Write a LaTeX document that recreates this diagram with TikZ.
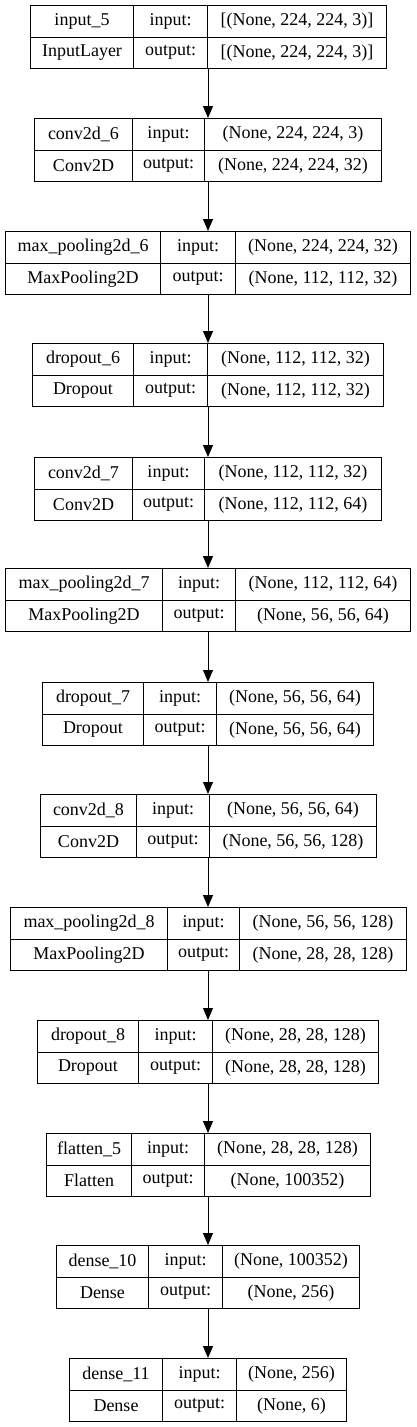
\documentclass[tikz,border=0pt]{standalone}
\usepackage{fontspec}
\newfontfamily\layerfont{Liberation Serif}
\usepackage{tikz}
\usetikzlibrary{arrows.meta}

\tikzset{
  cell/.style={draw, line width=1pt, inner sep=0pt, minimum height=31.5pt, font=\layerfont\fontsize{18}{20}\selectfont},
  layer/.style={inner sep=0pt, minimum height=63pt, anchor=north west},
  flow/.style={line width=1pt, -{Triangle[length=12pt, width=10pt]}}
}

\begin{document}
\begin{tikzpicture}[x=1pt, y=-1pt]
  \useasboundingbox (0,0) rectangle (416,1427);
  \coordinate (axis) at (208,0);
  % one box per layer: name | port | shape
  \foreach \nd/\ytop/\xl/\xa/\xb/\xr/\lname/\ltype/\lin/\lout in {
      l1/5/30/133/207/386/input\_5/InputLayer/{[(None, 224, 224, 3)]}/{[(None, 224, 224, 3)]},
      l2/118/34/132/204/381/conv2d\_6/Conv2D/{(None, 224, 224, 3)}/{(None, 224, 224, 32)},
      l3/231/5/160/235/410/max\_pooling2d\_6/MaxPooling2D/{(None, 224, 224, 32)}/{(None, 112, 112, 32)},
      l4/343/32/133/207/383/dropout\_6/Dropout/{(None, 112, 112, 32)}/{(None, 112, 112, 32)},
      l5/457/34/132/204/381/conv2d\_7/Conv2D/{(None, 112, 112, 32)}/{(None, 112, 112, 64)},
      l6/568/5/162/235/410/max\_pooling2d\_7/MaxPooling2D/{(None, 112, 112, 64)}/{(None, 56, 56, 64)},
      l7/682/42/143/216/373/dropout\_7/Dropout/{(None, 56, 56, 64)}/{(None, 56, 56, 64)},
      l8/794/40/136/209/376/conv2d\_8/Conv2D/{(None, 56, 56, 64)}/{(None, 56, 56, 128)},
      l9/907/10/167/239/406/max\_pooling2d\_8/MaxPooling2D/{(None, 56, 56, 128)}/{(None, 28, 28, 128)},
      l10/1020/37/138/212/378/dropout\_8/Dropout/{(None, 28, 28, 128)}/{(None, 28, 28, 128)},
      l11/1133/46/131/204/370/flatten\_5/Flatten/{(None, 28, 28, 128)}/{(None, 100352)},
      l12/1245/56/148/222/359/dense\_10/Dense/{(None, 100352)}/{(None, 256)},
      l13/1358/69/162/236/346/dense\_11/Dense/{(None, 256)}/{(None, 6)}} {
    \pgfmathsetmacro\wname{\xa-\xl}
    \pgfmathsetmacro\wport{\xb-\xa}
    \pgfmathsetmacro\wshape{\xr-\xb}
    \pgfmathsetmacro\wlayer{\xr-\xl}
    \node[layer, minimum width=\wlayer pt] (\nd) at (\xl,\ytop) {};
    \node[cell, anchor=north west, minimum width=\wname pt] (\nd-name) at (\xl,\ytop) {\lname};
    \node[cell, anchor=north west, minimum width=\wname pt] (\nd-type) at (\xl,\ytop+31.5) {\ltype};
    \node[cell, anchor=north west, minimum width=\wport pt] (\nd-pin) at (\xa,\ytop) {input:};
    \node[cell, anchor=north west, minimum width=\wport pt] (\nd-pout) at (\xa,\ytop+31.5) {output:};
    \node[cell, anchor=north west, minimum width=\wshape pt] (\nd-in) at (\xb,\ytop) {\lin};
    \node[cell, anchor=north west, minimum width=\wshape pt] (\nd-out) at (\xb,\ytop+31.5) {\lout};
  }
  % connectors
  \foreach \u/\v in {l1/l2, l2/l3, l3/l4, l4/l5, l5/l6, l6/l7, l7/l8, l8/l9, l9/l10, l10/l11, l11/l12, l12/l13}
    \draw[flow] (\u.south -| axis) -- (\v.north -| axis);
\end{tikzpicture}
\end{document}
